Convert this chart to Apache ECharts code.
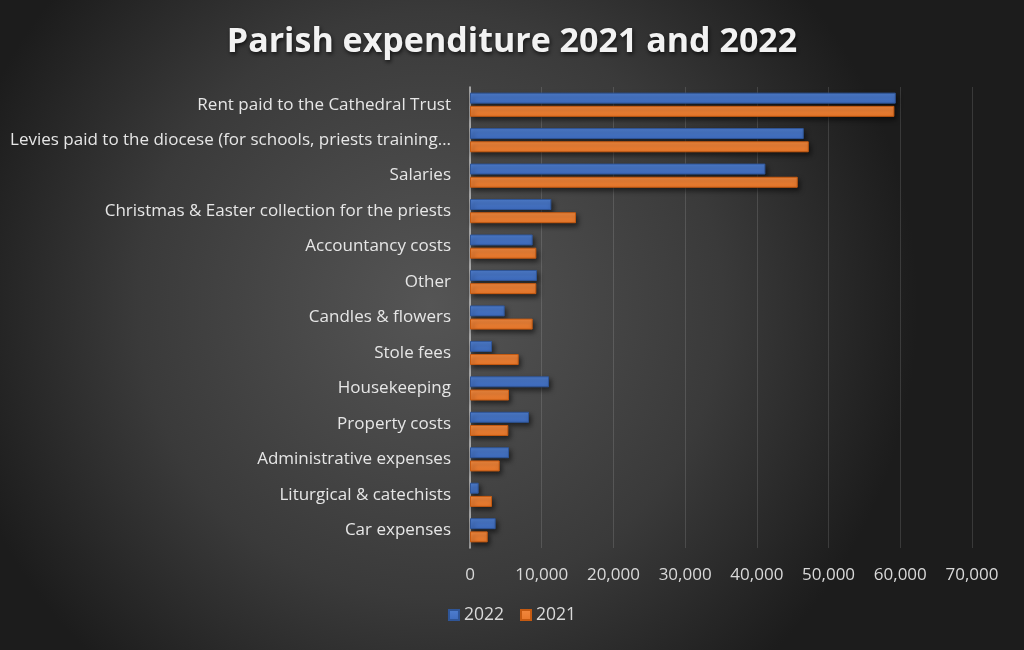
<!DOCTYPE html>
<html>
<head>
<meta charset="utf-8">
<script src="https://cdn.jsdelivr.net/npm/echarts@6/dist/echarts.min.js"></script>
<style>html,body{margin:0;padding:0;background:#2a2a2a;}#c{width:1024px;height:650px;}</style>
</head>
<body>
<div id="c"></div>
<script>
const categories = [
  "Rent paid to the Cathedral Trust",
  "Levies paid to the diocese (for schools, priests training…",
  "Salaries",
  "Christmas & Easter collection for the priests",
  "Accountancy costs",
  "Other",
  "Candles & flowers",
  "Stole fees",
  "Housekeeping",
  "Property costs",
  "Administrative expenses",
  "Liturgical & catechists",
  "Car expenses"
];
const values2022 = [59370, 46540, 41190, 11340, 8740, 9340, 4840, 3070, 11020, 8230, 5440, 1210, 3580];
const values2021 = [59180, 47240, 45700, 14780, 9250, 9250, 8740, 6790, 5440, 5350, 4140, 3070, 2470];
const xTicks = [0, 10000, 20000, 30000, 40000, 50000, 60000, 70000];

const FONT = '"Open Sans"';
const chart = echarts.init(document.getElementById('c'), null, {renderer: 'canvas'});
chart.setOption({
  animation: false,
  backgroundColor: {
    type: 'radial', x: 0.42, y: 0.47, r: 0.75,
    colorStops: [
      {offset: 0, color: '#555555'},
      {offset: 0.6, color: '#3a3a3a'},
      {offset: 1, color: '#1c1c1c'}
    ]
  },
  textStyle: {fontFamily: FONT},
  title: {
    text: 'Parish expenditure 2021 and 2022',
    left: 'center', top: 20,
    textStyle: {
      color: '#f2f2f2', fontSize: 34, fontWeight: 'bold', fontFamily: FONT,
      textShadowColor: 'rgba(0,0,0,0.7)', textShadowBlur: 4, textShadowOffsetX: 1, textShadowOffsetY: 2
    }
  },
  legend: {
    data: ['2022', '2021'],
    left: 'center', bottom: 21,
    itemWidth: 10, itemHeight: 10, itemGap: 16,
    icon: 'rect',
    textStyle: {color: '#d9d9d9', fontSize: 17.5, fontFamily: FONT}
  },
  grid: {left: 470, right: 52, top: 87, bottom: 102, containLabel: false, outerBoundsMode: 'none'},
  xAxis: {
    type: 'value', min: 0, max: 70000, interval: 10000,
    axisLine: {show: false},
    axisTick: {show: false},
    splitLine: {show: true, lineStyle: {color: 'rgba(255,255,255,0.13)', width: 1}},
    axisLabel: {
      color: '#d9d9d9', fontSize: 17, margin: 19, fontFamily: FONT,
      formatter: v => xTicks.includes(v) ? v.toLocaleString('en-US') : ''
    }
  },
  yAxis: {
    type: 'category', data: categories, inverse: true,
    axisLine: {show: true, lineStyle: {color: '#bfbfbf', width: 1.5}},
    axisTick: {show: false},
    axisLabel: {color: '#e6e6e6', fontSize: 17, margin: 19, fontFamily: FONT}
  },
  series: [
    {
      name: '2022', type: 'bar', data: values2022, barWidth: 11, barGap: '20%',
      itemStyle: {
        color: {type: 'linear', x: 0, y: 0, x2: 0, y2: 1, colorStops: [{offset: 0, color: '#4f7fd0'}, {offset: 1, color: '#3e6bbd'}]},
        borderColor: '#2f5597', borderWidth: 1,
        shadowColor: 'rgba(0,0,0,0.55)', shadowBlur: 5, shadowOffsetX: 2, shadowOffsetY: 3
      }
    },
    {
      name: '2021', type: 'bar', data: values2021, barWidth: 11, barGap: '20%',
      itemStyle: {
        color: {type: 'linear', x: 0, y: 0, x2: 0, y2: 1, colorStops: [{offset: 0, color: '#f2893f'}, {offset: 1, color: '#e8772a'}]},
        borderColor: '#c55a11', borderWidth: 1,
        shadowColor: 'rgba(0,0,0,0.55)', shadowBlur: 5, shadowOffsetX: 2, shadowOffsetY: 3
      }
    }
  ]
});
</script>
</body>
</html>
